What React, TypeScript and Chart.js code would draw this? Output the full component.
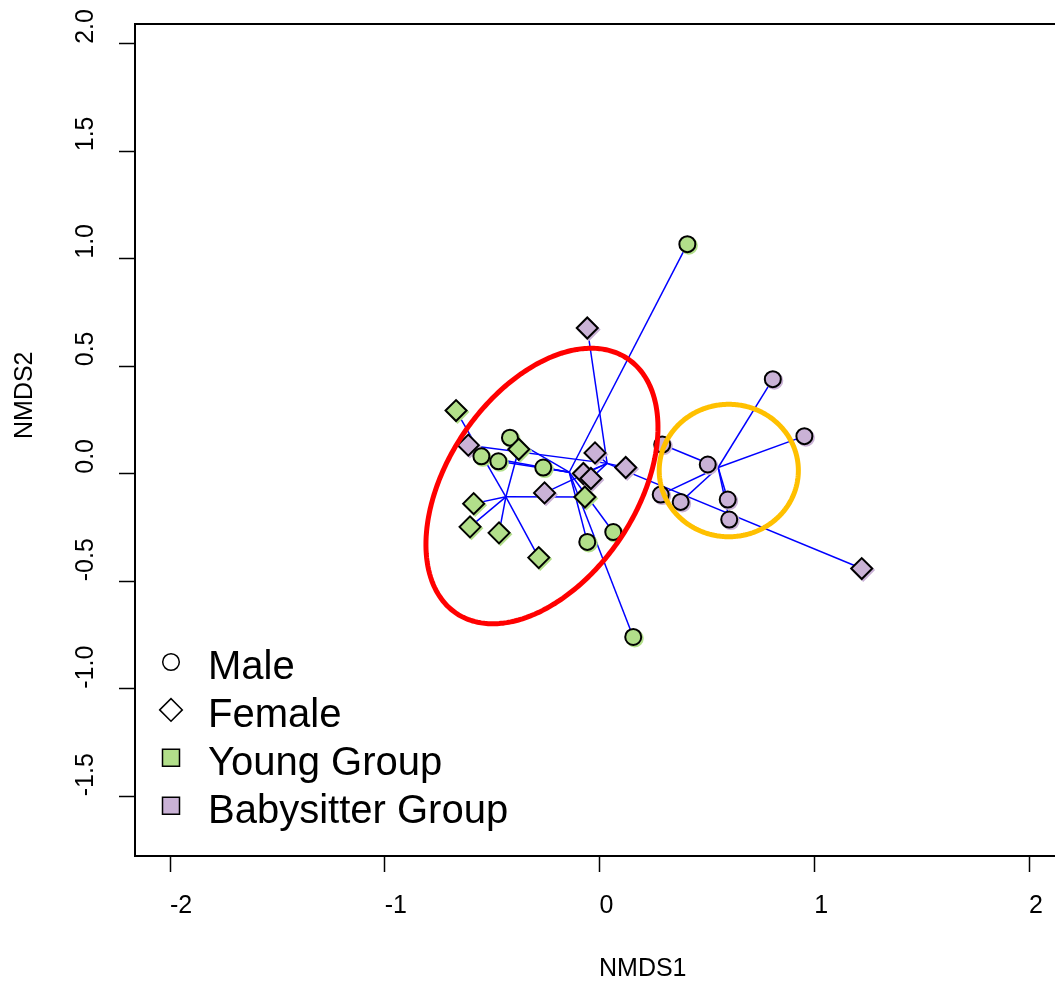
import React, { useEffect, useRef } from "react";
import { Chart, registerables } from "chart.js";

Chart.register(...registerables);

const FONT = "'Liberation Sans', Arial, Helvetica, sans-serif";
const W = 1055;
const H = 985;

// NMDS site scores [NMDS1, NMDS2], one list per sex within each group
const youngMale: [number, number][] = [
  [0.409, 1.068],
  [-0.417, 0.168],
  [-0.55, 0.081],
  [-0.471, 0.058],
  [-0.262, 0.029],
  [0.157, -0.759],
  [-0.057, -0.317],
  [0.064, -0.271],
];
const youngFemale: [number, number][] = [
  [-0.668, 0.294],
  [-0.376, 0.114],
  [-0.586, -0.139],
  [-0.603, -0.247],
  [-0.468, -0.275],
  [-0.283, -0.39],
  [-0.068, -0.108],
];
const sitterFemale: [number, number][] = [
  [-0.057, 0.678],
  [-0.611, 0.133],
  [-0.021, 0.097],
  [0.122, 0.029],
  [-0.075, 0.001],
  [-0.04, -0.022],
  [-0.256, -0.089],
  [1.221, -0.441],
];
const sitterMale: [number, number][] = [
  [0.292, 0.136],
  [0.504, 0.043],
  [0.807, 0.44],
  [0.954, 0.175],
  [0.285, -0.097],
  [0.378, -0.131],
  [0.597, -0.12],
  [0.604, -0.213],
];

// group dispersion ellipses: centre, semi-axes, rotation (degrees)
const youngEllipse = { cx: -0.268, cy: -0.057, a: 0.714, b: 0.439, rot: 56 };
const sitterEllipse = { cx: 0.602, cy: 0.015, a: 0.324, b: 0.308, rot: 0 };

const xTicks = [-2, -1, 0, 1, 2];
const yTicks = [-1.5, -1, -0.5, 0, 0.5, 1, 1.5, 2];
const xRange = [-2.163, 2.121];
const yRange = [-1.778, 2.092];

const legendLabels = ["Male", "Female", "Young Group", "Babysitter Group"];

const GREEN = "#B2DF8A";
const PURPLE = "#CAB2D6";
const SPOKE = "#0000FF";
const RED = "#FF0000";
const GOLD = "#FFC000";

type Pt = { x: number; y: number };

const toPts = (arr: [number, number][]): Pt[] => arr.map(([x, y]) => ({ x, y }));

const centroid = (arr: [number, number][]): Pt => ({
  x: arr.reduce((s, p) => s + p[0], 0) / arr.length,
  y: arr.reduce((s, p) => s + p[1], 0) / arr.length,
});

const ellipsePath = (e: { cx: number; cy: number; a: number; b: number; rot: number }): Pt[] => {
  const th = (e.rot * Math.PI) / 180;
  const out: Pt[] = [];
  const n = 180;
  for (let i = 0; i <= n; i++) {
    const t = (2 * Math.PI * i) / n;
    const u = e.a * Math.cos(t);
    const v = e.b * Math.sin(t);
    out.push({
      x: e.cx + u * Math.cos(th) - v * Math.sin(th),
      y: e.cy + u * Math.sin(th) + v * Math.cos(th),
    });
  }
  return out;
};

const spokes = (arr: [number, number][]) => {
  const c = centroid(arr);
  return arr.map(([x, y]) => ({
    data: [c, { x, y }],
    showLine: true,
    pointRadius: 0,
    borderColor: SPOKE,
    borderWidth: 1.5,
    order: 5,
  }));
};

const pointSet = (arr: [number, number][], style: string, fillColor: string, order: number) => ({
  data: toPts(arr),
  showLine: false,
  pointStyle: style,
  pointRadius: style === "circle" ? 8 : 10.5,
  pointHoverRadius: style === "circle" ? 8 : 10.5,
  pointBackgroundColor: fillColor,
  pointBorderColor: "#000",
  pointBorderWidth: 2,
  order,
  fringe: fillColor,
});

const ellipseSet = (e: typeof youngEllipse, color: string) => ({
  data: ellipsePath(e),
  showLine: true,
  pointRadius: 0,
  borderColor: color,
  borderWidth: 5,
  tension: 0.1,
  fill: false,
  order: 0,
});

// coloured offset halo behind each marker
const fringePlugin = {
  id: "fringe",
  beforeDatasetDraw(chart: any, args: any) {
    const ds = chart.data.datasets[args.index];
    if (ds.fringe) {
      const ctx = chart.ctx;
      ctx.save();
      ctx.shadowColor = ds.fringe;
      ctx.shadowOffsetX = 1.5;
      ctx.shadowOffsetY = 1.5;
      ctx.shadowBlur = 0;
    }
  },
  afterDatasetDraw(chart: any, args: any) {
    const ds = chart.data.datasets[args.index];
    if (ds.fringe) chart.ctx.restore();
  },
};

// frame top edge, axis titles and the legend
const overlayPlugin = {
  id: "overlay",
  afterDraw(chart: any) {
    const ctx: CanvasRenderingContext2D = chart.ctx;
    const area = chart.chartArea;
    ctx.save();

    ctx.strokeStyle = "#000";
    ctx.lineWidth = 2;
    ctx.beginPath();
    ctx.moveTo(area.left - 1, area.top);
    ctx.lineTo(area.right, area.top);
    ctx.stroke();

    ctx.fillStyle = "#000";
    ctx.font = `25px ${FONT}`;
    ctx.textAlign = "left";
    ctx.textBaseline = "middle";
    ctx.fillText("NMDS1", 599, 969);

    ctx.save();
    ctx.translate(25, 439);
    ctx.rotate(-Math.PI / 2);
    ctx.fillText("NMDS2", 0, 0);
    ctx.restore();

    // legend
    const symX = area.left + 36;
    const textX = area.left + 73;
    const row0 = area.bottom - 194;
    const step = 47.9;
    ctx.font = `40px ${FONT}`;
    ctx.textBaseline = "alphabetic";
    legendLabels.forEach((label, i) => {
      const cy = row0 + i * step;
      ctx.lineWidth = 1.5;
      ctx.strokeStyle = "#000";
      ctx.beginPath();
      if (i === 0) {
        ctx.arc(symX, cy, 8.3, 0, Math.PI * 2);
        ctx.stroke();
      } else if (i === 1) {
        const r = 11.3;
        ctx.moveTo(symX - r, cy);
        ctx.lineTo(symX, cy - r);
        ctx.lineTo(symX + r, cy);
        ctx.lineTo(symX, cy + r);
        ctx.closePath();
        ctx.stroke();
      } else {
        const h = 8.5;
        ctx.rect(symX - h, cy - h, 2 * h, 2 * h);
        ctx.fillStyle = i === 2 ? GREEN : PURPLE;
        ctx.fill();
        ctx.stroke();
      }
      ctx.fillStyle = "#000";
      ctx.fillText(label, textX, cy + 17);
    });

    ctx.restore();
  },
};

export default function App() {
  const ref = useRef<HTMLCanvasElement>(null);

  useEffect(() => {
    const canvas = ref.current;
    if (!canvas) return;

    const datasets: any[] = [
      ellipseSet(youngEllipse, RED),
      ellipseSet(sitterEllipse, GOLD),
      pointSet(youngFemale, "rectRot", GREEN, 1),
      pointSet(youngMale, "circle", GREEN, 2),
      pointSet(sitterMale, "circle", PURPLE, 3),
      pointSet(sitterFemale, "rectRot", PURPLE, 4),
      ...spokes(youngMale),
      ...spokes(youngFemale),
      ...spokes(sitterFemale),
      ...spokes(sitterMale),
    ];

    const tickFont = { family: FONT, size: 25 };

    const chart = new Chart(canvas, {
      type: "scatter",
      data: { datasets },
      options: {
        animation: false,
        responsive: false,
        devicePixelRatio: 1,
        events: [],
        layout: { autoPadding: false, padding: { top: 24, left: 74, right: 0, bottom: 0 } },
        plugins: {
          legend: { display: false },
          tooltip: { enabled: false },
        },
        scales: {
          x: {
            type: "linear",
            min: xRange[0],
            max: xRange[1],
            afterBuildTicks: (s: any) => {
              s.ticks = xTicks.map((v) => ({ value: v }));
            },
            afterFit: (s: any) => {
              s.height = 129;
              s.paddingLeft = 0;
              s.paddingRight = 0;
            },
            ticks: {
              callback: (v: any) => String(v),
              font: tickFont,
              color: "#000",
              padding: 19,
              align: "start",
              maxRotation: 0,
              minRotation: 0,
              autoSkip: false,
            },
            grid: {
              drawOnChartArea: false,
              drawTicks: true,
              tickLength: 16,
              tickColor: "#000",
              tickWidth: 1.5,
            },
            border: { display: true, color: "#000", width: 2 },
          },
          y: {
            type: "linear",
            min: yRange[0],
            max: yRange[1],
            afterBuildTicks: (s: any) => {
              s.ticks = yTicks.map((v) => ({ value: v }));
            },
            afterFit: (s: any) => {
              s.width = 61;
              s.paddingTop = 0;
              s.paddingBottom = 0;
            },
            ticks: {
              callback: (v: any) => Number(v).toFixed(1),
              font: tickFont,
              color: "#000",
              padding: 0,
              align: "start",
              crossAlign: "far",
              minRotation: 90,
              maxRotation: 90,
              autoSkip: false,
            },
            grid: {
              drawOnChartArea: false,
              drawTicks: true,
              tickLength: 16,
              tickColor: "#000",
              tickWidth: 1.5,
            },
            border: { display: true, color: "#000", width: 2 },
          },
        },
      } as any,
      plugins: [fringePlugin, overlayPlugin],
    });

    return () => chart.destroy();
  }, []);

  return (
    <div
      style={{
        position: "fixed",
        left: 0,
        top: 0,
        width: W,
        height: H,
        overflow: "hidden",
        background: "#fff",
      }}
    >
      <canvas ref={ref} width={W} height={H} style={{ display: "block", width: W, height: H }} />
    </div>
  );
}
